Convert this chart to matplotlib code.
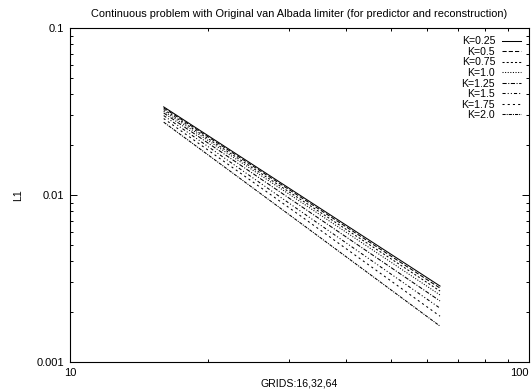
import matplotlib
matplotlib.use("Agg")
import matplotlib.pyplot as plt
from matplotlib.ticker import LogLocator, FixedLocator, NullFormatter

plt.rcParams['font.family'] = ['Liberation Sans', 'DejaVu Sans']

grids = [16, 32, 64]
k_values = ["0.25", "0.5", "0.75", "1.0", "1.25", "1.5", "1.75", "2.0"]

# L1 error on each grid, one list per K
l1_k025 = [0.0337, 0.0098, 0.00285]
l1_k05 = [0.0332, 0.0096, 0.00277]
l1_k075 = [0.0325, 0.0093, 0.00266]
l1_k10 = [0.0318, 0.0090, 0.00252]
l1_k125 = [0.0310, 0.0085, 0.00232]
l1_k15 = [0.0299, 0.0079, 0.00210]
l1_k175 = [0.0287, 0.0074, 0.00188]
l1_k20 = [0.0273, 0.0067, 0.00164]

errors = [l1_k025, l1_k05, l1_k075, l1_k10, l1_k125, l1_k15, l1_k175, l1_k20]

# gnuplot-like dash patterns
dashes = [
    (None, None),
    (4, 2),
    (2, 2),
    (1, 1.5),
    (4, 1.5, 1, 1.5),
    (3, 2, 1, 2, 1, 2),
    (2, 3),
    (3, 1, 1, 1),
]

fig = plt.figure(figsize=(5.32, 3.92), dpi=100)
ax = fig.add_axes([70 / 532, 1 - 362 / 392, 459 / 532, 334 / 392])

for k, err, d in zip(k_values, errors, dashes):
    line, = ax.plot(grids, err, color='black', lw=0.75, label=f"K={k}")
    if d[0] is not None:
        line.set_dashes(d)

ax.set_xscale('log')
ax.set_yscale('log')
ax.set_xlim(10, 100)
ax.set_ylim(0.001, 0.1)

ax.xaxis.set_major_locator(FixedLocator([10, 100]))
ax.xaxis.set_minor_locator(LogLocator(base=10, subs=range(2, 10)))
ax.xaxis.set_minor_formatter(NullFormatter())
ax.set_xticklabels(["10", "100"])
ax.yaxis.set_major_locator(FixedLocator([0.001, 0.01, 0.1]))
ax.yaxis.set_minor_locator(LogLocator(base=10, subs=range(2, 10)))
ax.yaxis.set_minor_formatter(NullFormatter())
ax.set_yticklabels(["0.001", "0.01", "0.1"])

ax.tick_params(which='both', direction='in', top=True, right=True,
               labelsize=8, width=0.7, pad=4)
ax.tick_params(which='major', length=5)
ax.tick_params(which='minor', length=2.5)
# keep the right-hand "100" inside the figure edge
ax.get_xticklabels()[-1].set_horizontalalignment('right')
ax.get_xticklabels()[-1].set_x(100)
for s in ax.spines.values():
    s.set_linewidth(0.8)

ax.set_title("Continuous problem with Original van Albada limiter "
             "(for predictor and reconstruction)", fontsize=7.9, pad=8)
ax.set_xlabel("GRIDS:16,32,64", fontsize=7.6, labelpad=1)
ax.set_ylabel("L1", fontsize=7.6, labelpad=10)

ax.legend(loc='upper right', frameon=False, markerfirst=False, fontsize=7.6,
          handlelength=1.8, handletextpad=0.6, labelspacing=0.05,
          borderaxespad=0.5, borderpad=0.3)

fig.savefig("out.png", dpi=100)
